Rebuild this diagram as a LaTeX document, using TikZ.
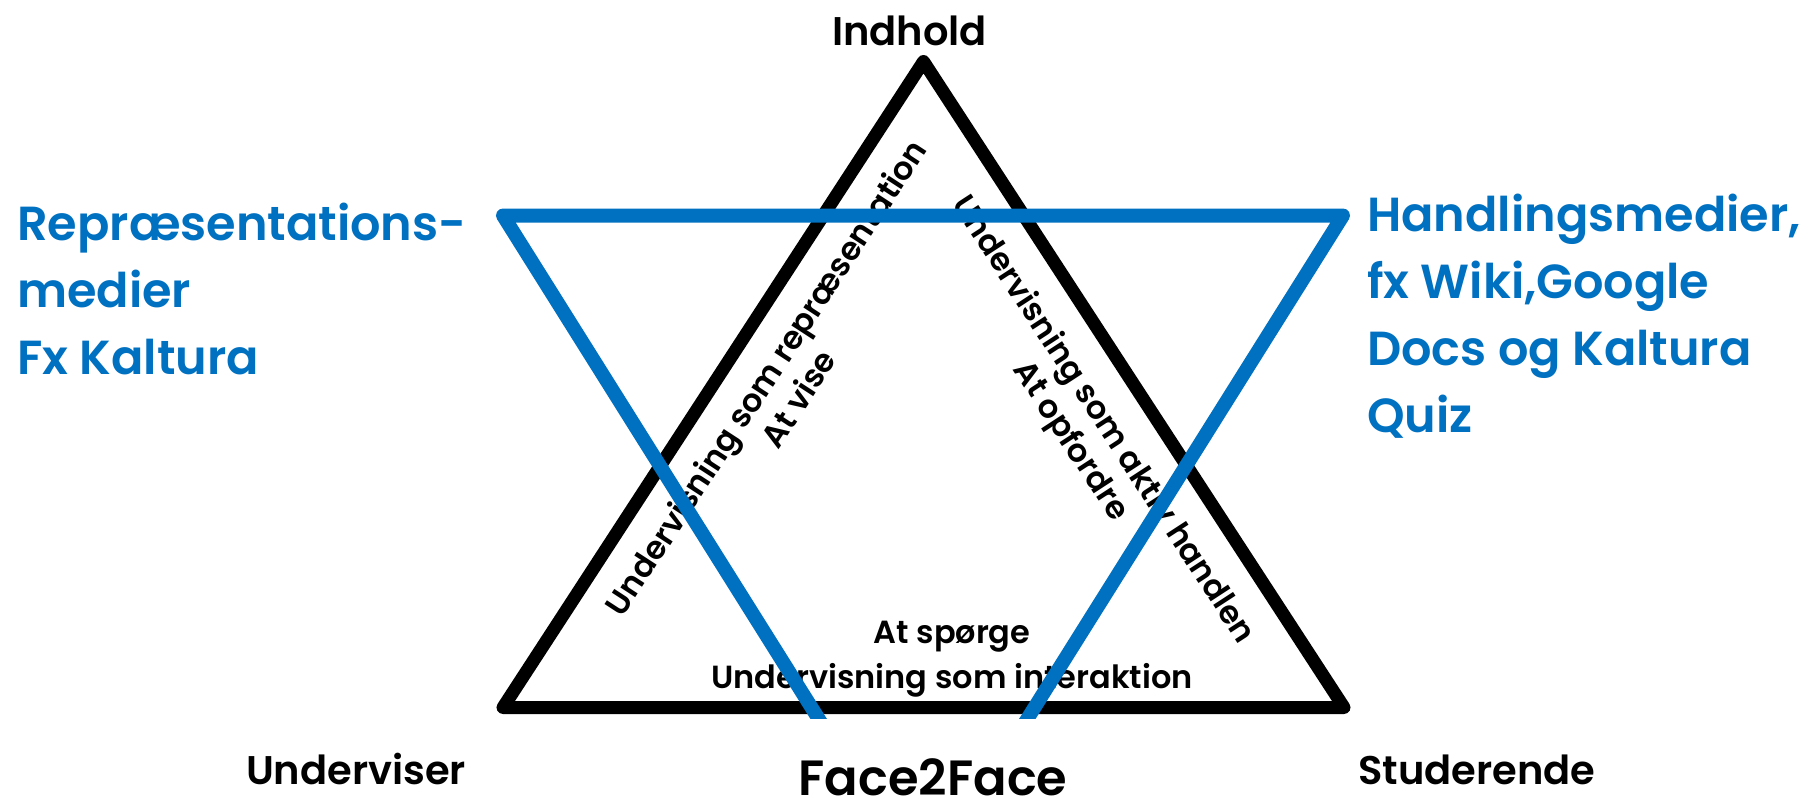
\documentclass[tikz,border=0pt]{standalone}
\usepackage{fontspec}
\IfFontExistsTF{Poppins SemiBold}{\setmainfont{Poppins SemiBold}}{%
  \setmainfont{Poppins}[FakeBold=2]}
\definecolor{medblue}{HTML}{0070C0}
\begin{document}
\begin{tikzpicture}[x=1pt,y=-1pt,
  tri/.style={draw=black, line width=13pt, line join=round},
  bluetri/.style={draw=medblue, line width=14pt, line join=round},
  corner/.style={font=\fontsize{40}{49}\selectfont, anchor=base, inner sep=0pt},
  innertext/.style={font=\fontsize{32}{39}\selectfont, align=center, inner sep=0pt},
  media/.style={font=\fontsize{47.8}{66.7}\selectfont, text=medblue, align=left, anchor=base west, inner sep=0pt}
]
\useasboundingbox (0,0) rectangle (1818,798);
\coordinate (T) at (923.5,61.5);
\coordinate (L) at (503,707.5);
\coordinate (R) at (1344,707.5);
\draw[tri] (L) -- (T) -- (R) -- cycle;

\node[corner] (ind) at (909.5,45) {Indhold};
\node[corner] (und) at (356,784) {Underviser};
\node[corner] (stu) at (1477,784) {Studerende};
\node[corner, font=\fontsize{49.5}{60}\selectfont] (f2f) at (933,795) {Face2Face};

\node[innertext, rotate=56.9] (rep) at (781.5,387.7) {Undervisning som repræsentation\\At vise};
\node[innertext, rotate=-56.9] (akt) at (1086,431) {Undervisning som aktiv handlen\\At opfordre};
\node[innertext, anchor=base] (sp) at (952,643) {At spørge};
\node[innertext, anchor=base] (int) at (952,688) {Undervisning som interaktion};

\node[media] (lmed) at (17,374) {Repræsentations-\\medier\\Fx Kaltura};
\node[media] (rmed) at (1367,432) {Handlingsmedier,\\fx Wiki,Google\\Docs og Kaltura\\Quiz};

\coordinate (BL) at (503,215.5);
\coordinate (BR) at (1343,215.5);
\coordinate (BLe) at (831.9,740);
\coordinate (BRe) at (1014.1,740);
\begin{scope}
\clip (0,0) rectangle (1818,718);
\draw[bluetri] (BLe) -- (BL) -- (BR) -- (BRe);
\end{scope}
\end{tikzpicture}
\end{document}
